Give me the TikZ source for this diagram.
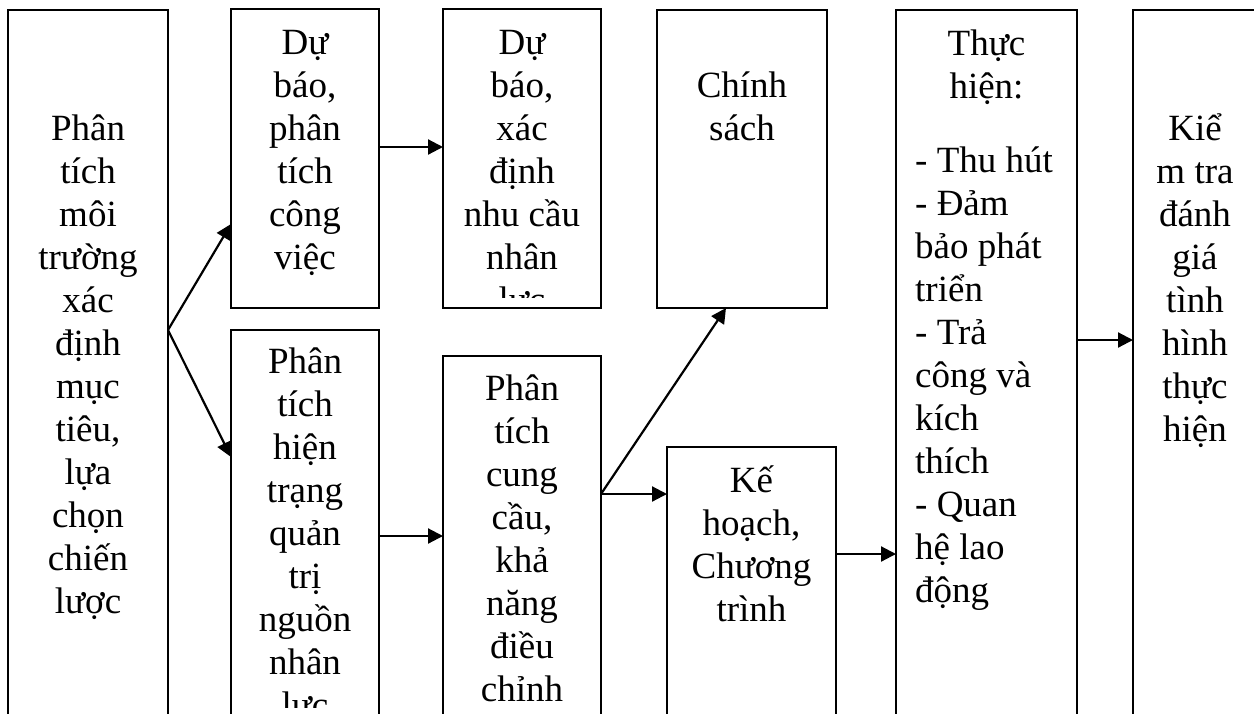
\documentclass[tikz,border=0pt]{standalone}
\usepackage{fontspec}
\setmainfont{Liberation Serif}
\usetikzlibrary{positioning,calc,arrows.meta}
\newcommand{\firstln}{\rule{0pt}{34pt}}

\begin{document}
\begin{tikzpicture}[x=1pt,y=-1pt,
	box/.style={draw, line width=2.2pt, inner sep=0pt, outer sep=0pt, anchor=north west},
	txt/.style={inner sep=0pt, align=center, font=\fontsize{37pt}{43pt}\selectfont},
	arr/.style={line width=2.2pt, -{Triangle[length=15pt,width=15pt]}}]
	\clip (0,0) rectangle (1254,713);
	\node[box, minimum width=160pt, minimum height=710pt] (a) at (8,10) {};
	\node[box, minimum width=148pt, minimum height=299pt] (b1) at (231,9) {};
	\node[box, minimum width=148pt, minimum height=390pt] (b2) at (231,330) {};
	\node[box, minimum width=158pt, minimum height=299pt] (c1) at (443,9) {};
	\node[box, minimum width=158pt, minimum height=364pt] (c2) at (443,356) {};
	\node[box, minimum width=170pt, minimum height=298pt] (d1) at (657,10) {};
	\node[box, minimum width=169pt, minimum height=273pt] (d2) at (667,447) {};
	\node[box, minimum width=181pt, minimum height=710pt] (e) at (896,10) {};
	\node[box, minimum width=124pt, minimum height=710pt] (f) at (1133,10) {};

	\node[txt, below=96pt of a.north] (a-t) {\firstln Phân\\tích\\môi\\trường\\xác\\định\\mục\\tiêu,\\lựa\\chọn\\chiến\\lược};
	\node[txt, below=11pt of b1.north] (b1-t) {\firstln Dự\\báo,\\phân\\tích\\công\\việc};
	\begin{scope}
		\clip (c1.north west) rectangle ([yshift=11pt]c1.south east);
		\node[txt, below=11pt of c1.north] (c1-t) {\firstln Dự\\báo,\\xác\\định\\nhu cầu\\nhân\\lực};
	\end{scope}
	\node[txt, below=53pt of d1.north] (d1-t) {\firstln Chính\\sách};
	\begin{scope}
		\clip (b2.north west) rectangle ([yshift=13pt]b2.south east);
		\node[txt, below=9pt of b2.north] (b2-t) {\firstln Phân\\tích\\hiện\\trạng\\quản\\trị\\nguồn\\nhân\\lực};
	\end{scope}
	\node[txt, below=10pt of c2.north] (c2-t) {\firstln Phân\\tích\\cung\\cầu,\\khả\\năng\\điều\\chỉnh};
	\node[txt, below=11pt of d2.north] (d2-t) {\firstln Kế\\hoạch,\\Chương\\trình};
	\node[txt, below=11pt of e.north] (e-t) {\firstln Thực\\hiện:};
	\node[txt, align=left, below right=128pt and 19pt of e.north west] (e-l) {\firstln - Thu hút\\- Đảm\\bảo phát\\triển\\- Trả\\công và\\kích\\thích\\- Quan\\hệ lao\\động};
	\node[txt, below=96pt of f.north] (f-t) {\firstln Kiể\\m tra\\đánh\\giá\\tình\\hình\\thực\\hiện};

	\coordinate (split) at ([yshift=35pt]a.east);
	\draw[arr] (split) -- ([yshift=-65.5pt]b1.west);
	\draw[arr] (split) -- ([yshift=68pt]b2.west);
	\draw[arr] ([yshift=11.5pt]b1.east) -- ([yshift=11.5pt]c1.west);
	\draw[arr] ([yshift=-11pt]b2.east) -- ([yshift=-11pt]b2.east -| c2.west);
	\coordinate (c2-out) at ([yshift=44pt]c2.east);
	\draw[arr] (c2-out) -- (c2-out -| d2.west);
	\draw[arr] (c2-out) -- ([xshift=-16pt]d1.south);
	\draw[arr] ([yshift=29.5pt]d2.east) -- ([yshift=29.5pt]d2.east -| e.west);
	\draw[arr] ([yshift=25pt]e.east) -- ([yshift=25pt]f.west);
\end{tikzpicture}
\end{document}
